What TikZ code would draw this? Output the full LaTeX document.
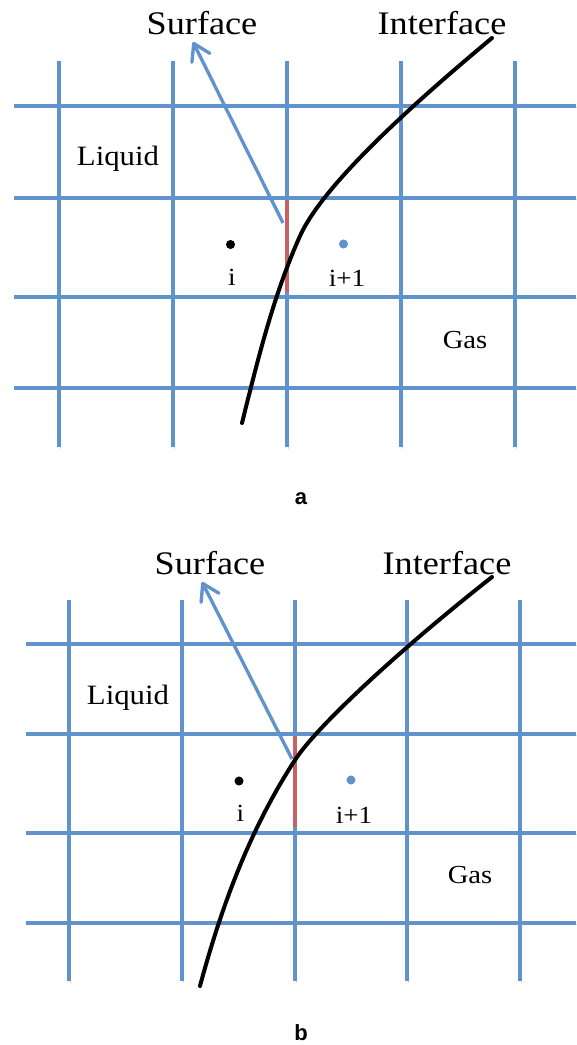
\documentclass[tikz,border=0pt]{standalone}
\usepackage{fontspec}
\setmainfont{Liberation Serif}
\newfontfamily\capfont[FakeStretch=1.1]{Liberation Serif}
\newfontfamily\sansbold{Liberation Sans}
\usetikzlibrary{arrows.meta}
\definecolor{gridblue}{RGB}{96,146,204}
\definecolor{segred}{RGB}{198,98,98}
\tikzset{
  gridline/.style={draw=gridblue, line width=2.8pt,
    preaction={draw=black, opacity=0.14, transform canvas={shift={(0.7pt,-1.2pt)}}}},
  segline/.style={draw=segred, line width=2.9pt},
  normarrow/.style={draw=gridblue, line width=2.5pt, line join=round,
    -{Straight Barb[length=12pt,width=15pt,line cap=round,line join=round]}},
  ifaceline/.style={draw=black, line width=3pt, line cap=round},
  dotblack/.style={circle, fill=black, inner sep=0pt, minimum size=6.8pt},
  dotblue/.style={circle, fill=gridblue, inner sep=0pt, minimum size=6.8pt},
  bigtxt/.style={anchor=base, inner sep=0pt, font=\capfont\fontsize{24.7pt}{28pt}\selectfont},
  regtxt/.style={anchor=base, inner sep=0pt, font=\capfont\fontsize{21pt}{24pt}\selectfont},
  gastxt/.style={anchor=base, inner sep=0pt, font=\capfont\fontsize{19.5pt}{22pt}\selectfont},
  idxtxt/.style={anchor=base, inner sep=0pt, font=\capfont\fontsize{18.5pt}{21pt}\selectfont},
  paneltxt/.style={anchor=base, inner sep=0pt, font=\sansbold\bfseries\fontsize{16.5pt}{18pt}\selectfont}
}
\begin{document}
\begin{tikzpicture}[x=0.75pt,y=-0.75pt]
\useasboundingbox (0,0) rectangle (576,1045);

% ---------- panel a ----------
\foreach \x in {59,173,287,401,515} \draw[gridline] (\x,61) -- (\x,447);
\foreach \y in {106,198,297,388} \draw[gridline] (14,\y) -- (576,\y);

\node[bigtxt] (surfA) at (202,35) {Surface};
\node[bigtxt] (ifaceA) at (442,35) {Interface};
\node[regtxt] (liqA) at (118,166) {Liquid};
\node[gastxt] (gasA) at (465,348) {Gas};
\node[dotblack] (ciA) at (230.5,244.5) {};
\node[dotblue] (cjA) at (343.5,244) {};
\node[idxtxt] (iA) at (232,285) {i};
\node[idxtxt] (jA) at (347,286) {i+1};

\coordinate (segAtop) at (287,200);
\coordinate (segAbot) at (287,292);
\draw[segline] (segAtop) -- (segAbot);
\coordinate (nAbase) at (283,223);
\coordinate (nAtip) at (193,42);
\draw[normarrow] (nAbase) -- (nAtip);
\coordinate (cA0) at (242,423);
\coordinate (cA1) at (300,236);
\coordinate (cA2) at (492,38);
\draw[ifaceline] (cA0) .. controls (257,363) and (273,296) .. (cA1)
  .. controls (322.5,186) and (408,108) .. (cA2);
\node[paneltxt] (capA) at (301,504) {a};

% ---------- panel b ----------
\foreach \x in {69,182,295,407,520} \draw[gridline] (\x,600) -- (\x,981);
\foreach \y in {644,734,833,923} \draw[gridline] (26,\y) -- (576,\y);

\node[bigtxt] (surfB) at (210,574) {Surface};
\node[bigtxt] (ifaceB) at (447,574) {Interface};
\node[regtxt] (liqB) at (128,704) {Liquid};
\node[gastxt] (gasB) at (470,883) {Gas};
\node[dotblack] (ciB) at (239,781) {};
\node[dotblue] (cjB) at (351,780) {};
\node[idxtxt] (iB) at (240.5,821.5) {i};
\node[idxtxt] (jB) at (354,823) {i+1};

\coordinate (segBtop) at (295,736);
\coordinate (segBbot) at (295,827);
\draw[segline] (segBtop) -- (segBbot);
\coordinate (nBbase) at (292,759);
\coordinate (nBtip) at (202,582);
\draw[normarrow] (nBbase) -- (nBtip);
\coordinate (cB0) at (200,986);
\coordinate (cB1) at (295,760);
\coordinate (cB2) at (492,577);
\draw[ifaceline] (cB0) .. controls (221.6,906) and (249.5,830) .. (cB1)
  .. controls (317.75,725) and (403,647) .. (cB2);
\node[paneltxt] (capB) at (301,1040) {b};
\end{tikzpicture}
\end{document}
